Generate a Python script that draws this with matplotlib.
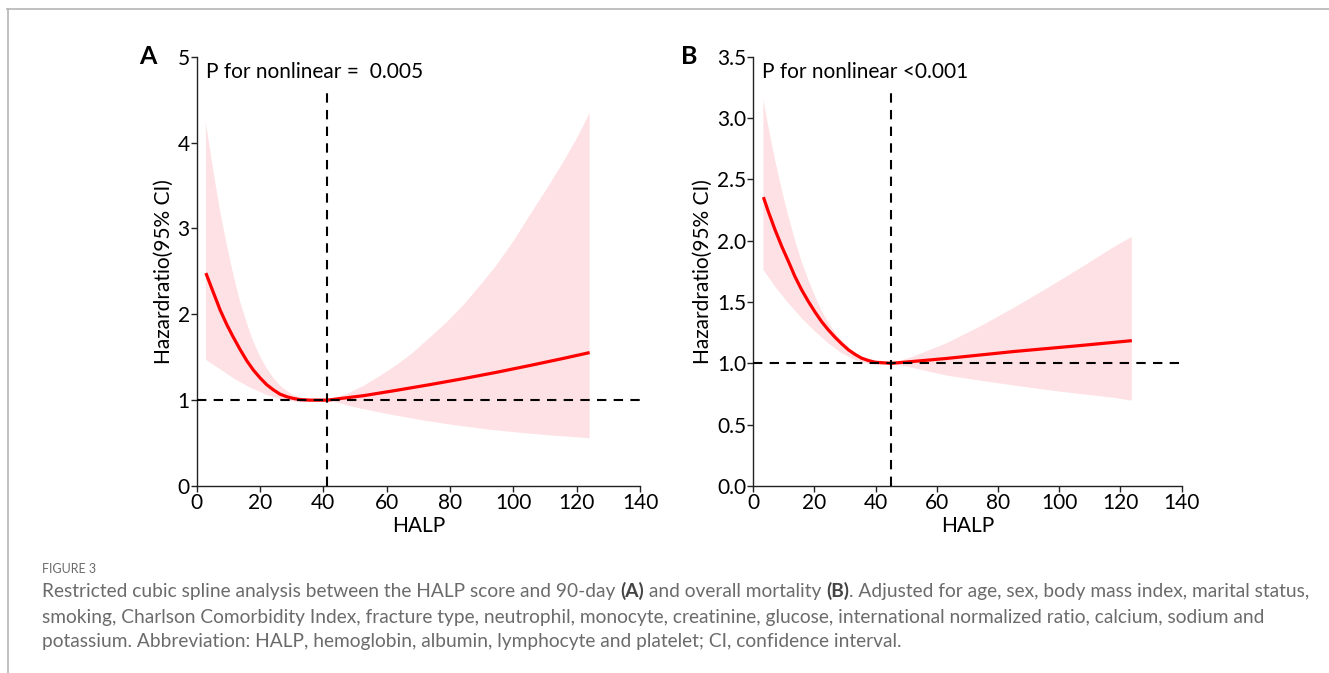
import matplotlib
matplotlib.use("Agg")
import matplotlib.pyplot as plt
from matplotlib.lines import Line2D
from matplotlib.text import Annotation

# ---------------- data ----------------
# Panel A (90-day mortality)
a_curve_x = [2.9, 5.3, 7.4, 9.5, 11.6, 13.7, 15.8, 17.9, 20.0, 22.1, 24.2, 26.3, 28.4, 30.5, 32.7, 35.8, 41.3,
             52.7, 63.2, 73.7, 84.3, 94.8, 105.3, 115.9, 124.1]
a_curve_y = [2.48, 2.25, 2.05, 1.88, 1.73, 1.59, 1.46, 1.35, 1.26, 1.18, 1.12, 1.07, 1.04, 1.02, 1.006, 1.0, 1.0,
             1.052, 1.115, 1.181, 1.251, 1.325, 1.404, 1.487, 1.554]
a_upper_x = [2.9, 5.3, 7.4, 9.5, 11.6, 13.7, 15.8, 17.9, 20.0, 22.1, 24.2, 26.3, 28.4, 30.5, 32.7, 36.9, 41.3,
             47.4, 52.7, 57.9, 63.2, 68.5, 79.0, 84.3, 89.5, 94.8, 100.1, 105.3, 110.6, 115.9, 120.1, 124.1]
a_upper_y = [4.23, 3.66, 3.20, 2.81, 2.46, 2.15, 1.90, 1.68, 1.51, 1.37, 1.26, 1.17, 1.11, 1.06, 1.033, 1.01, 1.0,
             1.072, 1.166, 1.282, 1.41, 1.558, 1.908, 2.11, 2.335, 2.576, 2.855, 3.159, 3.462, 3.78, 4.052, 4.344]
a_lower_x = [2.9, 7.4, 11.6, 16.9, 22.1, 27.4, 32.7, 36.9, 41.3, 49.5, 60.0, 70.5, 81.1, 91.6, 102.2, 112.7, 124.1]
a_lower_y = [1.47, 1.36, 1.255, 1.146, 1.061, 1.002, 0.975, 0.979, 1.0, 0.92, 0.84, 0.77, 0.71, 0.66, 0.62, 0.586, 0.556]
a_knot = 41.3
a_ptext = "P for nonlinear =  0.005"

# Panel B (overall mortality)
b_curve_x = [3.3, 4.9, 7.1, 9.3, 11.5, 13.6, 15.8, 18.0, 20.2, 22.3, 24.5, 26.7, 28.9, 31.1, 33.2, 35.4, 37.6, 39.8, 45.1,
             52.0, 63.2, 85.0, 106.8, 123.7]
b_curve_y = [2.355, 2.238, 2.089, 1.953, 1.83, 1.708, 1.599, 1.504, 1.417, 1.341, 1.273, 1.213, 1.159, 1.11, 1.074, 1.042,
             1.023, 1.009, 1.0, 1.015, 1.04, 1.096, 1.145, 1.185]
b_upper_x = [3.3, 4.9, 7.1, 9.3, 11.5, 13.6, 15.8, 18.0, 20.2, 22.3, 24.5, 26.7, 28.9, 31.1, 33.2, 35.4, 38.7, 45.1,
             52.3, 63.2, 74.1, 85.0, 95.9, 106.8, 117.6, 123.7]
b_upper_y = [3.15, 2.932, 2.66, 2.415, 2.197, 2.007, 1.83, 1.681, 1.545, 1.43, 1.332, 1.251, 1.183, 1.128, 1.088, 1.055,
             1.028, 1.0, 1.055, 1.164, 1.30, 1.45, 1.61, 1.775, 1.945, 2.03]
b_lower_x = [3.3, 7.1, 11.5, 15.8, 20.2, 24.5, 28.9, 33.2, 37.6, 40.9, 45.1, 52.3, 63.2, 74.1, 85.0, 95.9, 106.8, 117.6, 123.7]
b_lower_y = [1.762, 1.626, 1.49, 1.368, 1.259, 1.164, 1.083, 1.028, 0.995, 0.987, 1.0, 0.962, 0.90, 0.859, 0.82, 0.783,
             0.75, 0.72, 0.696]
b_knot = 45.1
b_ptext = "P for nonlinear <0.001"

x_ticks = [0, 20, 40, 60, 80, 100, 120, 140]
a_yticks = [0, 1, 2, 3, 4, 5]
b_yticks = [0.0, 0.5, 1.0, 1.5, 2.0, 2.5, 3.0, 3.5]

caption_title = "FIGURE 3"
caption_line1 = [("Restricted cubic spline analysis between the HALP score and 90-day ", "normal"),
                 ("(A)", "bold"),
                 (" and overall mortality ", "normal"),
                 ("(B)", "bold"),
                 (". Adjusted for age, sex, body mass index, marital status,", "normal")]
caption_line2 = ("smoking, Charlson Comorbidity Index, fracture type, neutrophil, monocyte, creatinine, "
                 "glucose, international normalized ratio, calcium, sodium and")
caption_line3 = "potassium. Abbreviation: HALP, hemoglobin, albumin, lymphocyte and platelet; CI, confidence interval."

# ---------------- style ----------------
plt.rcParams["font.family"] = ["Lato", "DejaVu Sans"]
W, H = 1329, 673
fig = plt.figure(figsize=(W / 100, H / 100), dpi=100)

RED = "#ff0000"
BAND = "#fee1e4"
TICK_FS = 15
LAB_FS = 15


def fx(px):
    return px / W


def fy(py):
    return 1 - py / H


def panel(rect, cx, cy, ux, uy, lx, ly, knot, yticks, ylim, yfmt, ptext, letter, letter_px):
    ax = fig.add_axes(rect)
    poly_x = list(ux) + list(lx)[::-1]
    poly_y = list(uy) + list(ly)[::-1]
    ax.fill(poly_x, poly_y, color=BAND, lw=0, zorder=1)
    ax.plot(cx, cy, color=RED, lw=2.3, zorder=3, solid_capstyle="butt", solid_joinstyle="round")
    ax.axhline(1.0, color="black", lw=1.5, ls=(0, (4.5, 3.5)), zorder=4)
    ax.axvline(knot, ymin=0, ymax=0.92, color="black", lw=1.5, ls=(0, (4.5, 3.5)), zorder=4)
    ax.set_xlim(0, 140)
    ax.set_ylim(*ylim)
    ax.set_xticks(x_ticks)
    ax.set_yticks(yticks)
    ax.set_yticklabels([yfmt.format(v) for v in yticks])
    for s in ["top", "right"]:
        ax.spines[s].set_visible(False)
    for s in ["left", "bottom"]:
        ax.spines[s].set_linewidth(1.0)
        ax.spines[s].set_color("#222222")
    ax.tick_params(axis="both", direction="out", length=4, width=1.0, labelsize=TICK_FS,
                   pad=1, colors="#222222", labelcolor="black")
    ax.set_xlabel("HALP", fontsize=LAB_FS, labelpad=2)
    ax.set_ylabel("Hazardratio(95% CI)", fontsize=LAB_FS, labelpad=3)
    ax.text(0.02, 0.965, ptext, transform=ax.transAxes, fontsize=LAB_FS, ha="left", va="center")
    fig.text(fx(letter_px[0]), fy(letter_px[1]), letter, fontsize=18, fontweight="bold",
             ha="center", va="center")
    return ax


bottom = fy(486)
height = (486 - 56.7) / H
panel([fx(196.7), bottom, (640 - 196.7) / W, height],
      a_curve_x, a_curve_y, a_upper_x, a_upper_y, a_lower_x, a_lower_y, a_knot,
      a_yticks, (0, 5), "{:.0f}", a_ptext, "A", (148, 57))
panel([fx(753.3), bottom, (1181.7 - 753.3) / W, height],
      b_curve_x, b_curve_y, b_upper_x, b_upper_y, b_lower_x, b_lower_y, b_knot,
      b_yticks, (0, 3.5), "{:.1f}", b_ptext, "B", (689, 57))

# ---------------- frame ----------------
GRAY = "#b5b5b5"
fig.add_artist(Line2D([fx(7), 1.0], [fy(8.5), fy(8.5)], color=GRAY, lw=1.2, transform=fig.transFigure))
fig.add_artist(Line2D([fx(7.5), fx(7.5)], [fy(8.5), 0.0], color=GRAY, lw=1.2, transform=fig.transFigure))

# ---------------- caption ----------------
CAP_COLOR = "#6b6b6b"
CAP_FS = 13.75
fig.text(fx(42), fy(569), caption_title, fontsize=9, color="#6b6b6b", ha="left", va="center")

prev = fig.text(fx(42), fy(592), caption_line1[0][0], fontsize=CAP_FS, color=CAP_COLOR,
                ha="left", va="center")
for seg, wt in caption_line1[1:]:
    prev = fig.add_artist(Annotation(
        seg, xy=(1, 0), xycoords=prev, xytext=(0, 0), textcoords="offset points",
        va="bottom", ha="left", fontsize=CAP_FS,
        color="#444444" if wt == "bold" else CAP_COLOR,
        fontweight="bold" if wt == "bold" else "normal"))

fig.text(fx(42), fy(617), caption_line2, fontsize=CAP_FS, color=CAP_COLOR, ha="left", va="center")
fig.text(fx(42), fy(642), caption_line3, fontsize=CAP_FS, color=CAP_COLOR, ha="left", va="center")

fig.savefig("out.png", dpi=100)
